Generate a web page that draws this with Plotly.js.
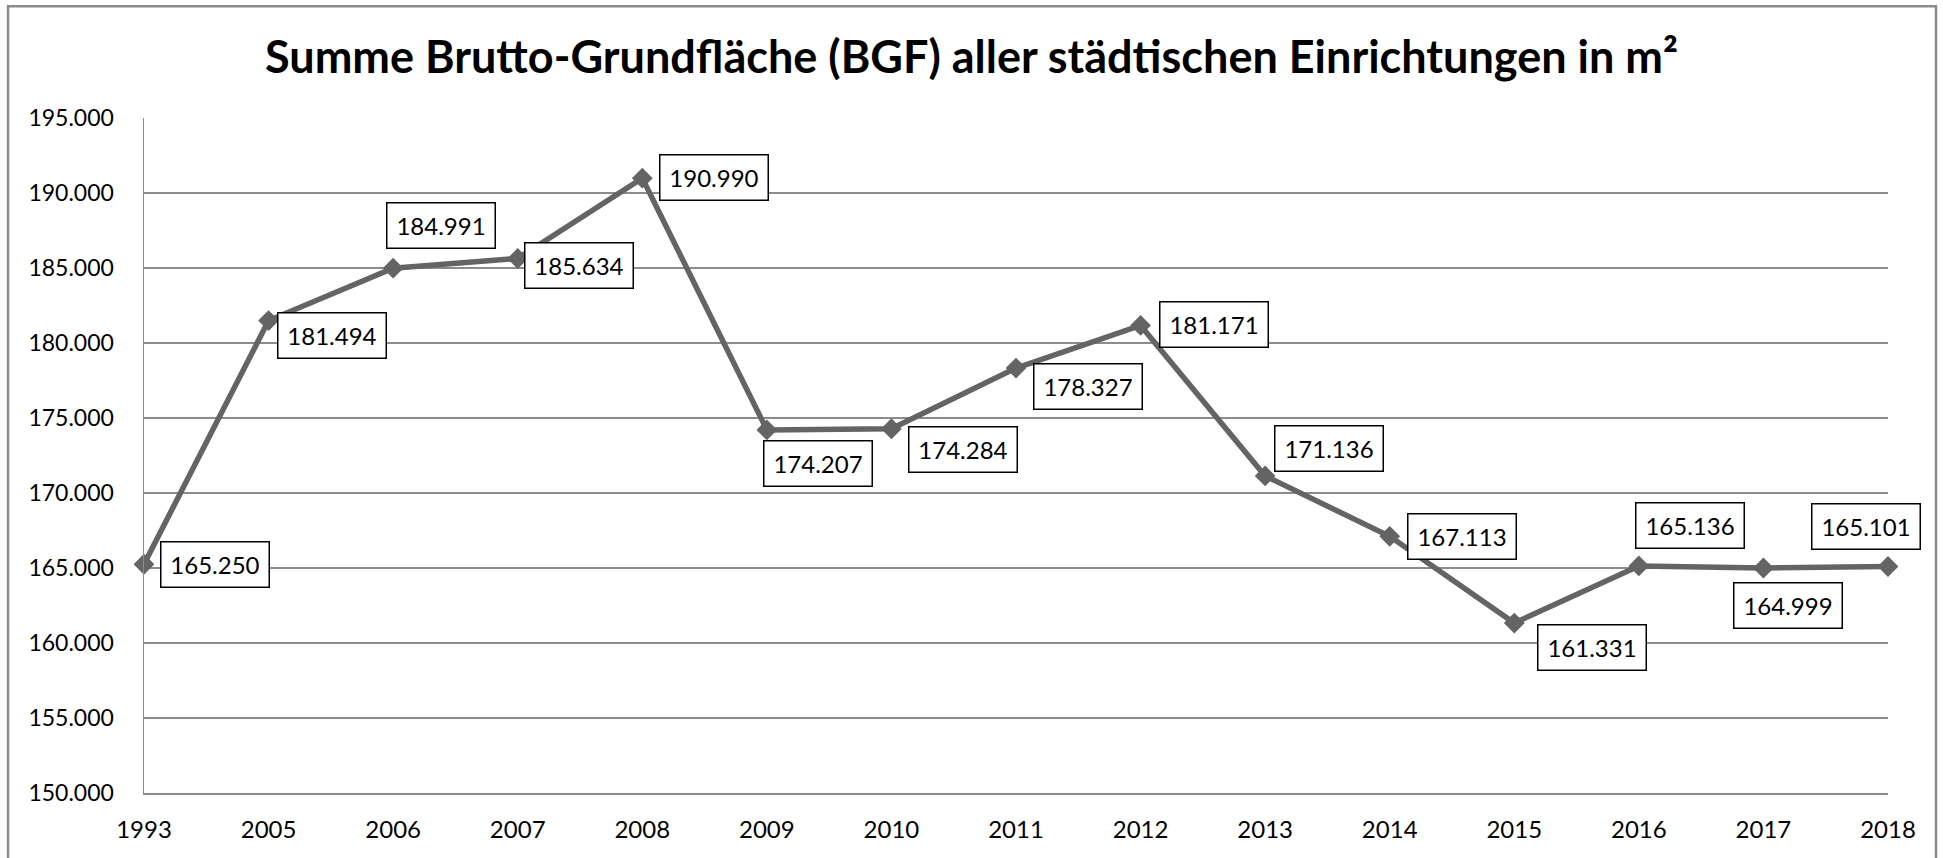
<!DOCTYPE html>
<html>
<head>
<meta charset="utf-8">
<script src="https://cdn.plot.ly/plotly-3.0.1.min.js"></script>
<style>
html,body{margin:0;padding:0;background:#fff;}
#chart{width:1943px;height:858px;}
</style>
</head>
<body>
<div id="chart"></div>
<script>
// ---- data ----
const years = ["1993","2005","2006","2007","2008","2009","2010","2011","2012","2013","2014","2015","2016","2017","2018"];
const bgfValues = [165250,181494,184991,185634,190990,174207,174284,178327,181171,171136,167113,161331,165136,164999,165101];
const titleText = "Summe Brutto-Grundfläche (BGF) aller städtischen Einrichtungen in m²";

// ---- label placement (pixel offsets from each point, layout only) ----
const labelDX = [71, 63, 48, 61, 72, 51, 72, 72, 73, 64, 72, 78, 51, 25, -22];
const labelDY = [0, 15, -43, 7, -1, 34, 21, 18, -1, -27, 0, 24, -40, 37, -40];

function fmtDE(v){
  return String(v).replace(/\B(?=(\d{3})+(?!\d))/g, ".");
}

const FONT = "Lato, 'Open Sans', sans-serif";
const GRID = "#8c8c8c";
const LINE = "#646464";

const trace = {
  type: "scatter",
  mode: "lines+markers",
  x: years,
  y: bgfValues,
  line: {color: LINE, width: 5.5},
  marker: {symbol: "diamond", size: 16, color: LINE},
  cliponaxis: false,
  hoverinfo: "x+y"
};

// category axis: annotations use the category index
const annotations = years.map((yr, i) => ({
  x: i, y: bgfValues[i], xref: "x", yref: "y",
  text: fmtDE(bgfValues[i]),
  showarrow: false,
  xanchor: "center", yanchor: "middle",
  xshift: labelDX[i], yshift: -labelDY[i],
  font: {family: FONT, size: 24, color: "#000"},
  bgcolor: "#fff",
  bordercolor: "#000",
  borderwidth: 1.5,
  borderpad: 1,
  width: 105,
  height: 42
}));

const layout = {
  width: 1943, height: 858,
  paper_bgcolor: "#fff", plot_bgcolor: "#fff",
  separators: ",.",
  margin: {l: 144, r: 54.5, t: 117.7, b: 65},
  showlegend: false,
  title: {
    text: "<b>" + titleText + "</b>",
    font: {family: FONT, size: 45, color: "#000"},
    x: 0.5, xref: "container", xanchor: "center",
    y: 1 - 57/858, yref: "container", yanchor: "middle"
  },
  xaxis: {
    type: "category",
    range: [0, years.length - 1],
    showgrid: false,
    zeroline: false,
    showline: true, linecolor: GRID, linewidth: 1.5,
    ticks: "outside", ticklen: 15, tickcolor: "rgba(0,0,0,0)",
    tickfont: {family: FONT, size: 24, color: "#000"},
    fixedrange: true
  },
  yaxis: {
    range: [150000, 195000],
    dtick: 5000,
    tick0: 150000,
    tickformat: ",d",
    showgrid: true, gridcolor: GRID, gridwidth: 1.5,
    zeroline: false,
    showline: true, linecolor: GRID, linewidth: 1.5,
    ticks: "outside", ticklen: 24, tickcolor: "rgba(0,0,0,0)",
    tickfont: {family: FONT, size: 23, color: "#000"},
    fixedrange: true
  },
  shapes: [{
    type: "rect", xref: "paper", yref: "paper",
    x0: (8 - 144) / 1744.5, x1: (1936.5 - 144) / 1744.5,
    y0: -0.12, y1: (793 - 6) / 675.3,
    line: {color: "#8a8a8a", width: 2.5},
    fillcolor: "rgba(0,0,0,0)",
    layer: "below"
  }],
  annotations: annotations
};

Plotly.newPlot("chart", [trace], layout, {displayModeBar: false, staticPlot: true});
</script>
</body>
</html>
